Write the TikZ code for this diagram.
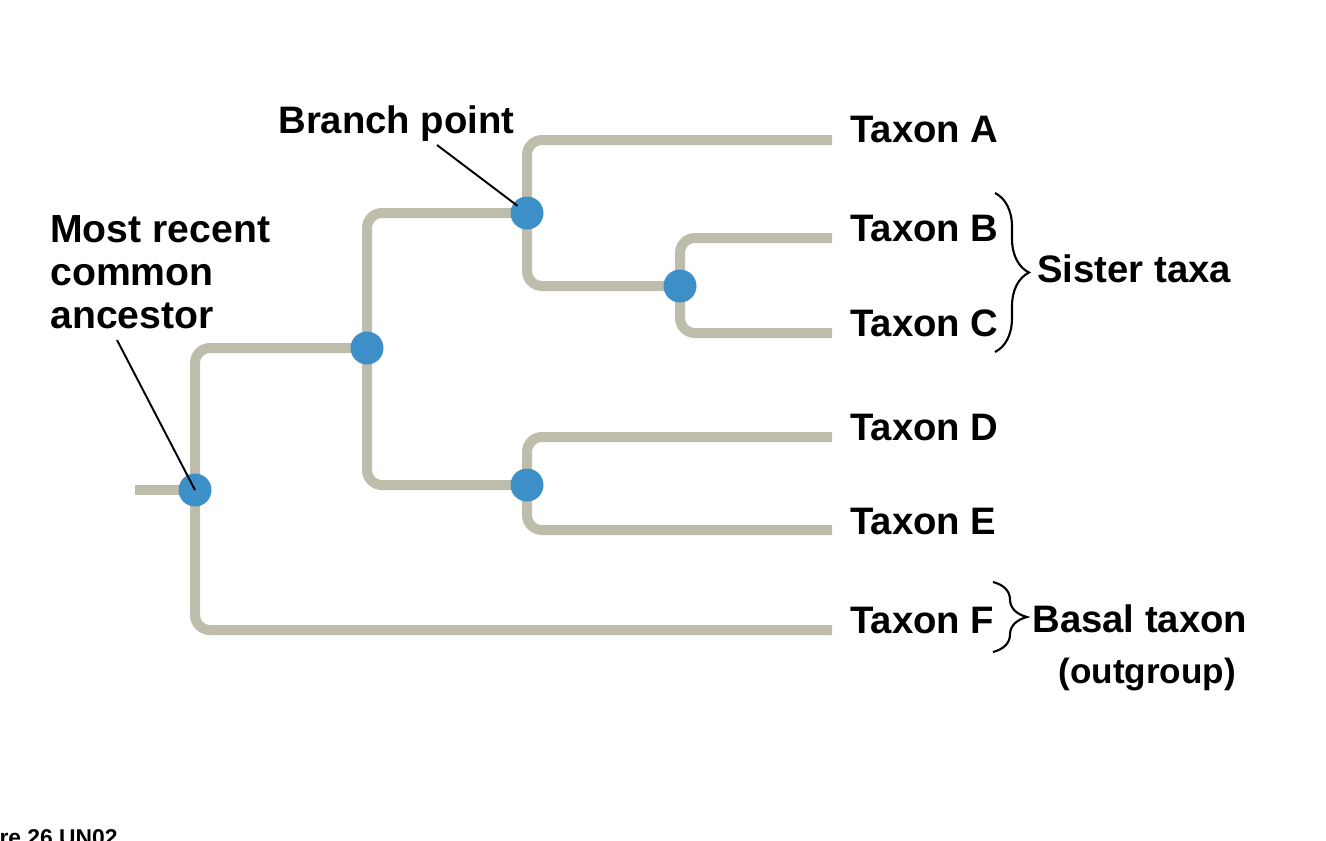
\documentclass[tikz,border=0pt]{standalone}
\usepackage{fontspec}
\setmainfont{Liberation Sans}
\usetikzlibrary{positioning,backgrounds,decorations.pathreplacing}
\definecolor{branchgray}{RGB}{190,189,172}
\definecolor{nodeblue}{RGB}{61,143,199}

\begin{document}
\begin{tikzpicture}[x=0.02cm,y=-0.02cm,
  bpoint/.style={circle,fill=nodeblue,minimum size=0.66cm,inner sep=0pt},
  branch/.style={draw=branchgray,line width=0.2cm,rounded corners=0.3cm},
  taxon/.style={anchor=base west,inner sep=0pt,font=\fontsize{21.8}{26}\selectfont\bfseries},
  pointer/.style={draw=black,line width=1.1pt},
  bracket/.style={draw=black,line width=1.2pt,decorate,decoration={brace,amplitude=0.68cm}}]
  \useasboundingbox (0,0) rectangle (1326,840);
  % branch points
  \node[bpoint] (r) at (195,490) {};
  \node[bpoint] (n1) at (367,348) {};
  \node[bpoint] (n2) at (527,213) {};
  \node[bpoint] (n3) at (527,485) {};
  \node[bpoint] (n4) at (680,286) {};
  % ends of the branches
  \coordinate (stem) at (135,490);
  \coordinate (lA) at (832,140);
  \coordinate (lB) at (832,238);
  \coordinate (lC) at (832,333);
  \coordinate (lD) at (832,437);
  \coordinate (lE) at (832,530);
  \coordinate (lF) at (832,630);
  \begin{scope}[on background layer]
    \path[branch] (stem) -- (r.center);
    \path[branch] (r.center) |- (n1.center);
    \path[branch] (r.center) |- (lF);
    \path[branch] (n1.center) |- (n2.center);
    \path[branch] (n1.center) |- (n3.center);
    \path[branch] (n2.center) |- (lA);
    \path[branch] (n2.center) |- (n4.center);
    \path[branch] (n4.center) |- (lB);
    \path[branch] (n4.center) |- (lC);
    \path[branch] (n3.center) |- (lD);
    \path[branch] (n3.center) |- (lE);
  \end{scope}
  % taxa
  \node[taxon] (tA) at (850,142) {Taxon A};
  \node[taxon] (tB) at (850,241) {Taxon B};
  \node[taxon] (tC) at (850,336) {Taxon C};
  \node[taxon] (tD) at (850,440) {Taxon D};
  \node[taxon] (tE) at (850,534) {Taxon E};
  \node[taxon] (tF) at (850,633) {Taxon F};
  % braces
  \coordinate (sisTop) at (995,193);
  \coordinate (sisBot) at (995,352);
  \coordinate (basTop) at (993,582);
  \coordinate (basBot) at (993,652);
  \path[bracket] (sisTop) -- (sisBot);
  \path[bracket] (basTop) -- (basBot);
  \node[taxon] (sister) at (1037,282) {Sister taxa};
  \node[taxon] (basal) at (1032,632) {Basal taxon};
  \node[taxon,font=\fontsize{20}{24}\selectfont\bfseries] (outgrp) at (1058,683) {(outgroup)};
  % callouts
  \node[taxon,anchor=north west,align=left,font=\fontsize{22.3}{24.4}\selectfont\bfseries] (mrca) at (50,215) {Most recent\\common\\ancestor};
  \node[taxon] (bplabel) at (278,133) {Branch point};
  \coordinate (mrcaTip) at (117,340);
  \coordinate (bpTip) at (437,145);
  \path[pointer] (mrcaTip) -- (r.center);
  \path[pointer,shorten >=0.24cm] (bpTip) -- (n2.center);
  \node[anchor=base west,inner sep=0pt,font=\fontsize{13}{15}\selectfont\bfseries] (fig) at (-49,845) {Figure 26.UN02};
\end{tikzpicture}
\end{document}
